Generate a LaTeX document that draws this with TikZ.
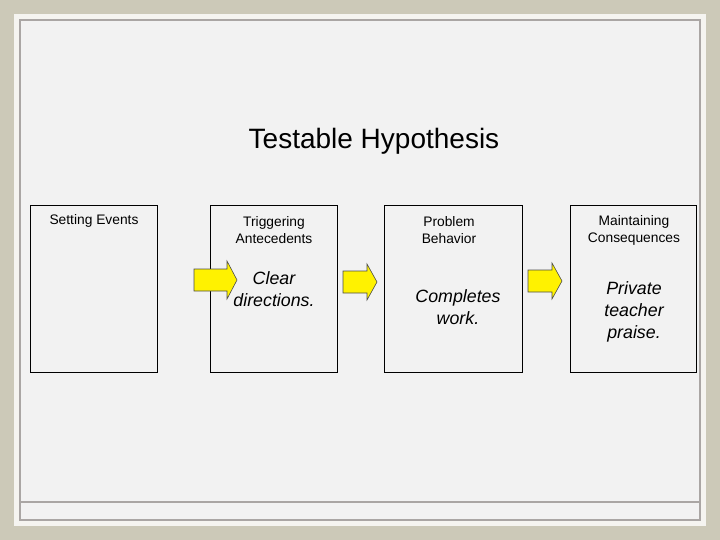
\documentclass[tikz,border=0pt]{standalone}
\usepackage{fontspec}
\setmainfont{Liberation Sans}
\definecolor{beige}{RGB}{204,201,184}
\definecolor{panel}{RGB}{245,244,240}
\definecolor{inner}{RGB}{242,242,242}
\definecolor{frame}{RGB}{170,166,164}
\begin{document}
\begin{tikzpicture}[x=1pt,y=-1pt,
  bx/.style={draw=black,line width=0.8pt,fill=none},
  lab/.style={align=center,font=\fontsize{13.8}{17}\selectfont,inner sep=0pt},
  body/.style={align=center,font=\fontsize{17.8}{22}\selectfont\itshape,inner sep=0pt},
  arr/.style={draw=black!70,line width=0.6pt,fill=yellow}]
\fill[beige] (0,0) rectangle (720,540);
\fill[panel] (14,14) rectangle (706,526);
\filldraw[fill=inner,draw=frame,line width=1.6pt] (20,20) rectangle (700,520);
\draw[frame,line width=1.6pt] (20,502) -- (700,502);
\node[font=\fontsize{28}{32}\selectfont] (title) at (374,141) {Testable Hypothesis};
\node[bx,minimum width=127,minimum height=167,anchor=north west] (b1) at (30,205) {};
\node[bx,minimum width=127,minimum height=167,anchor=north west] (b2) at (210,205) {};
\node[bx,minimum width=138,minimum height=167,anchor=north west] (b3) at (384,205) {};
\node[bx,minimum width=126,minimum height=167,anchor=north west] (b4) at (570,205) {};
\node[lab] (l1) at (94,221) {Setting Events};
\node[lab] (l2) at (274,230) {Triggering\\Antecedents};
\node[lab] (l3) at (449,230) {Problem\\Behavior};
\node[lab] (l4) at (634,230) {Maintaining\\Consequences};
\node[body] (t2) at (274,289) {Clear\\directions.};
\node[body] (t3) at (458,307) {Completes\\work.};
\node[body] (t4) at (634,312) {Private\\teacher\\praise.};
\draw[arr] (194,269) -- (227,269) -- (227,261) -- (237,280) -- (227,299) -- (227,291) -- (194,291) -- cycle;
\draw[arr] (343,271) -- (367,271) -- (367,264) -- (377,282) -- (367,300) -- (367,293) -- (343,293) -- cycle;
\draw[arr] (528,270) -- (552,270) -- (552,263) -- (562,281) -- (552,299) -- (552,292) -- (528,292) -- cycle;
\end{tikzpicture}
\end{document}
